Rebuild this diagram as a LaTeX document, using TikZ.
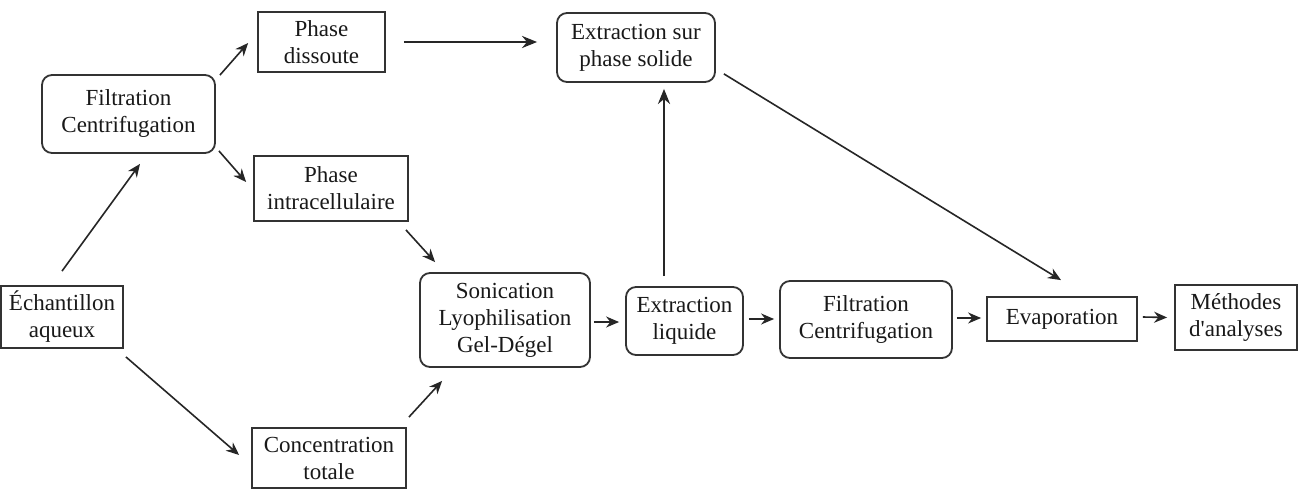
\documentclass[tikz,border=0pt]{standalone}
\usepackage{fontspec}
\setmainfont{Liberation Serif}
\usetikzlibrary{arrows.meta,calc}
\newcommand{\sq}{\XeTeXglyph\numexpr\XeTeXcharglyph"0027\relax\relax}
\begin{document}
\begin{tikzpicture}[x=0.5pt,y=-0.5pt,
  every node/.style={font=\fontsize{11.5}{13.5}\selectfont, align=center, inner sep=0pt, line width=0.9pt, draw=black!80, text=black!90},
  sqbox/.style={rectangle},
  rbox/.style={rectangle, rounded corners=5pt},
  arr/.style={-{Stealth[length=6.5pt,width=5.5pt]}, line width=0.8pt, draw=black!85},
  thickarr/.style={-{Stealth[length=7.5pt,width=6pt]}, line width=1.4pt, draw=black!85}]
\fill[white] (0,0) rectangle (1302,498);
\useasboundingbox (0,0) rectangle (1302,498);

\node[sqbox, minimum width=63.5pt, minimum height=30pt] (dis) at (321.5,42) {Phase\\dissoute};
\node[rbox, minimum width=86.5pt, minimum height=39pt] (filtA) at (128.5,114) {Filtration\\Centrifugation};
\node[sqbox, minimum width=77pt, minimum height=32.5pt] (intra) at (331,188.5) {Phase\\intracellulaire};
\node[sqbox, minimum width=61pt, minimum height=31pt] (ech) at (62,317) {Échantillon\\aqueux};
\node[sqbox, minimum width=77pt, minimum height=30pt] (conc) at (329,458) {Concentration\\totale};
\node[rbox, minimum width=85pt, minimum height=47pt] (son) at (505,320) {Sonication\\Lyophilisation\\Gel-Dégel};
\node[rbox, minimum width=58.5pt, minimum height=34pt] (liq) at (684.5,321) {Extraction\\liquide};
\node[rbox, minimum width=86pt, minimum height=38.5pt] (filtB) at (866,319.5) {Filtration\\Centrifugation};
\node[sqbox, minimum width=75pt, minimum height=22pt] (evap) at (1062,319) {Evaporation};
\node[sqbox, minimum width=61pt, minimum height=32.5pt] (meth) at (1236,317.5) {Méthodes\\d\sq analyses};
\node[rbox, minimum width=79pt, minimum height=34.5pt] (spe) at (636,47.5) {Extraction sur\\phase solide};

\draw[arr] ($(ech.north)+(0,-14)$) -- ($(filtA.south)+(11.5,10)$);
\draw[arr] ($(filtA.north east)+(4,1)$) -- ($(dis.west)+(-9,1)$);
\draw[arr] ($(filtA.south east)+(3,-3)$) -- ($(intra.west)+(-7,-6.5)$);
\draw[thickarr] ($(dis.east)+(18,0)$) -- ($(spe.west)+(-19,-5.5)$);
\draw[arr] ($(intra.south east)+(-3,8)$) -- ($(son.north west)+(16,-10)$);
\draw[arr] ($(ech.south east)+(2,8)$) -- ($(conc.west)+(-12,-3)$);
\draw[arr] ($(conc.north east)+(2,-10)$) -- ($(son.south west)+(23,13)$);
\draw[arr] ($(son.east)+(3,2)$) -- ($(liq.west)+(-6,1)$);
\draw[thickarr] ($(liq.north)+(-20.5,-10)$) -- ($(spe.south)+(28,6)$);
\draw[arr] ($(liq.east)+(5,-2)$) -- ($(filtB.west)+(-5,-0.5)$);
\draw[arr] ($(spe.south east)+(8,-9)$) -- ($(evap.north)+(-1,-16)$);
\draw[arr] ($(filtB.east)+(4,-1.5)$) -- ($(evap.west)+(-5,-1)$);
\draw[arr] ($(evap.east)+(5,-2)$) -- ($(meth.west)+(-7,0)$);
\end{tikzpicture}
\end{document}
